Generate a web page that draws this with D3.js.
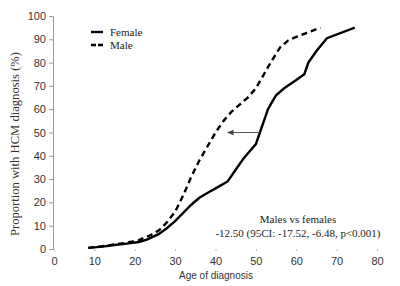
<!DOCTYPE html>
<html>
<head>
<meta charset="utf-8">
<script src="https://cdn.jsdelivr.net/npm/d3@7"></script>
<style>
  body { margin: 0; background: #fff; }
  svg { display: block; }
</style>
</head>
<body>
<svg></svg>
<script>
// age of diagnosis vs cumulative proportion (%)
const FEMALE = [
  [8.5, 0.5], [12, 1], [15, 1.7], [18, 2.3], [21, 3], [23, 4], [26, 6.5], [28, 9],
  [30, 12], [32, 15.5], [34, 19], [36, 22], [38, 24], [41, 27], [43, 29], [45, 34],
  [47, 39], [49, 43], [50, 45], [51, 50], [52, 55], [53, 60], [54, 63], [55, 66],
  [57, 69], [60, 72.5], [62, 75], [63, 80], [65, 85], [67.6, 90.5], [74.5, 95]
];
const MALE = [
  [8.5, 0.5], [12, 1.2], [15, 2], [18, 2.7], [21, 3.8], [24, 6], [26, 8], [28, 11.5],
  [30, 16], [32, 23], [34, 31], [36, 38], [38, 44], [40, 50], [42, 55], [44, 59],
  [46, 62], [48, 65], [50, 69], [52, 75], [54, 81], [56, 86.5], [58, 89.5], [60, 91],
  [62.5, 92.7], [66, 95]
];
const X_TICKS = [0, 10, 20, 30, 40, 50, 60, 70, 80];
const Y_TICKS = [0, 10, 20, 30, 40, 50, 60, 70, 80, 90, 100];
const SERIES = [
  { name: "Female", data: FEMALE, dash: null },
  { name: "Male", data: MALE, dash: "6,4" }
];
const ARROW = { y: 50, from: 51, to: 43 }; // arrow drawn at the 50% level
const NOTE = ["Males vs females", "-12.50 (95CI: -17.52, -6.48, p<0.001)"];

const WIDTH = 400;
const HEIGHT = 286;
const MARGINS = { left: 54, right: 23, top: 16, bottom: 37 };

const svg = d3.select("svg")
  .attr("width", WIDTH)
  .attr("height", HEIGHT);

const x = d3.scaleLinear()
  .domain([0, 80])
  .range([MARGINS.left, WIDTH - MARGINS.right]);

const y = d3.scaleLinear()
  .domain([0, 100])
  .range([HEIGHT - MARGINS.bottom, MARGINS.top]);

const sans = "'Liberation Sans', Arial, sans-serif";
const serif = "'Liberation Serif', 'Times New Roman', serif";

// y axis
const yAxis = svg.append("g")
  .attr("transform", `translate(${MARGINS.left - 1},0)`)
  .call(d3.axisLeft(y).tickValues(Y_TICKS).tickSize(4).tickSizeOuter(0).tickPadding(3));
yAxis.select(".domain").attr("stroke", "#999");
yAxis.selectAll(".tick line").attr("stroke", "#999");
yAxis.selectAll("text")
  .attr("font-family", sans)
  .attr("font-size", 11)
  .attr("fill", "#333");

// x axis: no line, only tiny tick marks
const xAxis = svg.append("g")
  .attr("transform", `translate(0,${HEIGHT - MARGINS.bottom})`)
  .call(d3.axisBottom(x).tickValues(X_TICKS).tickSize(2).tickPadding(6));
xAxis.select(".domain").remove();
xAxis.selectAll(".tick line").attr("stroke", "#bbb");
xAxis.selectAll("text")
  .attr("font-family", sans)
  .attr("font-size", 11)
  .attr("fill", "#333");

// axis titles
svg.append("text")
  .attr("x", 216)
  .attr("y", 279)
  .attr("text-anchor", "middle")
  .attr("font-family", sans)
  .attr("font-size", 10)
  .attr("fill", "#333")
  .text("Age of diagnosis");

svg.append("text")
  .attr("transform", "translate(19,144) rotate(-90)")
  .attr("text-anchor", "middle")
  .attr("font-family", serif)
  .attr("font-size", 12.6)
  .attr("fill", "#333")
  .text("Proportion with HCM diagnosis (%)");

// curves
const line = d3.line()
  .x(d => x(d[0]))
  .y(d => y(d[1]));

svg.selectAll(".curve")
  .data(SERIES)
  .enter()
  .append("path")
  .classed("curve", true)
  .attr("d", d => line(d.data))
  .attr("fill", "none")
  .attr("stroke", "#000")
  .attr("stroke-width", 2.4)
  .attr("stroke-dasharray", d => d.dash);

// arrow
svg.append("defs").append("marker")
  .attr("id", "head")
  .attr("viewBox", "0 0 10 10")
  .attr("refX", 9)
  .attr("refY", 5)
  .attr("markerWidth", 6)
  .attr("markerHeight", 6)
  .attr("orient", "auto")
  .append("path")
  .attr("d", "M0,1 L10,5 L0,9 Z")
  .attr("fill", "#444");

svg.append("line")
  .attr("x1", x(ARROW.from))
  .attr("x2", x(ARROW.to))
  .attr("y1", y(ARROW.y))
  .attr("y2", y(ARROW.y))
  .attr("stroke", "#555")
  .attr("stroke-width", 1.1)
  .attr("marker-end", "url(#head)");

// legend
const legend = svg.selectAll(".legend")
  .data(SERIES)
  .enter()
  .append("g")
  .classed("legend", true)
  .attr("transform", (d, i) => `translate(91,${32 + i * 13})`);

legend.append("line")
  .attr("x1", 0)
  .attr("x2", 12)
  .attr("stroke", "#000")
  .attr("stroke-width", 2.4)
  .attr("stroke-dasharray", d => d.dash ? "5,2" : null);

legend.append("text")
  .attr("x", 19)
  .attr("y", 4)
  .attr("font-family", serif)
  .attr("font-size", 11)
  .attr("fill", "#222")
  .text(d => d.name);

// note
svg.selectAll(".note")
  .data(NOTE)
  .enter()
  .append("text")
  .classed("note", true)
  .attr("x", 298)
  .attr("y", (d, i) => 223 + i * 14)
  .attr("text-anchor", "middle")
  .attr("font-family", serif)
  .attr("font-size", 11)
  .attr("fill", "#222")
  .text(d => d);
</script>
</body>
</html>
